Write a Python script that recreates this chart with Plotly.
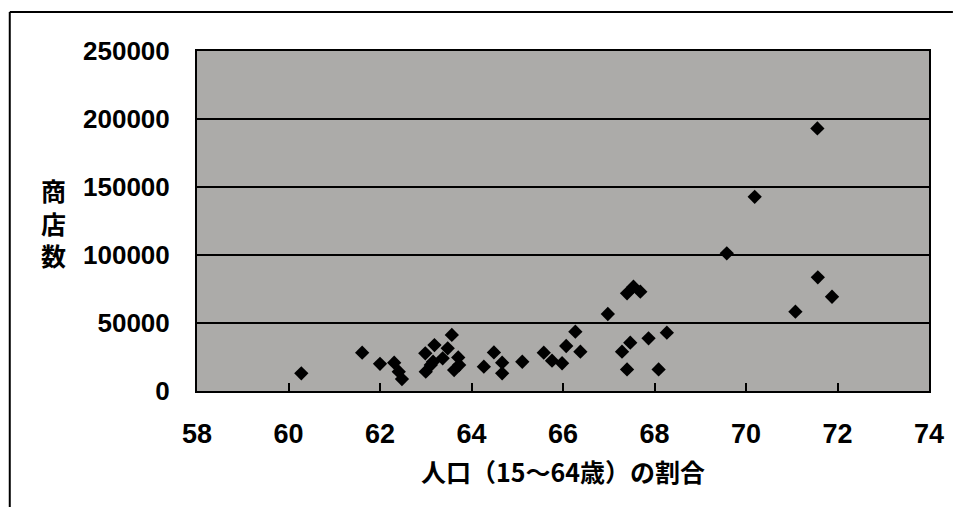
import plotly.graph_objects as go

# Share of population aged 15-64 (%)
working_age_share = [
    60.28, 61.61, 62.00, 62.31, 62.41, 62.48,
    62.99, 63.19, 63.48, 63.57, 63.37, 63.16, 63.71, 63.00, 63.11, 63.62, 63.73,
    64.27, 64.49, 64.67, 64.67, 65.11, 65.58, 65.76, 65.98, 66.07, 66.27, 66.38,
    66.98, 67.29, 67.47, 67.40, 67.87, 68.27, 68.09, 67.40, 67.54, 67.69,
    69.58, 70.19, 71.08, 71.57, 71.88, 71.56,
]
# Number of shops
shop_count = [
    13000, 28200, 20000, 20800, 14200, 8800,
    27700, 33800, 31400, 41200, 24000, 21500, 24700, 14200, 19100, 15400, 19100,
    17900, 28400, 20800, 13000, 21500, 28200, 22300, 20400, 33100, 43600, 28900,
    56600, 28900, 35500, 15900, 38700, 42900, 15900, 71800, 76700, 73000,
    101200, 142800, 58300, 83600, 69300, 193100,
]

x_ticks = [58, 60, 62, 64, 66, 68, 70, 72, 74]
y_ticks = [0, 50000, 100000, 150000, 200000, 250000]

x_title = "人口（15～64歳）の割合"
y_title = "商<br>店<br>数"

W, H = 956, 507
L, R, T, B = 197, 24, 51, 116
pw, ph = W - L - R, H - T - B

fig = go.Figure()
fig.add_trace(go.Scatter(
    x=working_age_share, y=shop_count, mode="markers",
    marker=dict(symbol="diamond", size=11, color="black", line=dict(width=0)),
    showlegend=False,
))

fig.update_layout(
    width=W, height=H,
    margin=dict(l=L, r=R, t=T, b=B),
    paper_bgcolor="white",
    plot_bgcolor="#acaba9",
    font=dict(family="Liberation Sans, Arial, sans-serif", color="black"),
    xaxis=dict(
        range=[58, 74], tickvals=x_ticks, ticktext=[str(v) for v in x_ticks],
        showgrid=False, zeroline=False,
        showline=True, linecolor="black", linewidth=2, mirror=True,
        ticks="inside", ticklen=8, tickcolor="black", tickwidth=1.5,
        tickfont=dict(family="Liberation Sans Narrow, Arial Narrow, Liberation Sans, sans-serif", size=27, color="black", weight="bold"),
        ticklabelstandoff=18,
    ),
    yaxis=dict(
        range=[0, 250000], tickvals=y_ticks, ticktext=[str(v) for v in y_ticks],
        showgrid=True, gridcolor="black", gridwidth=1.5,
        zeroline=False,
        showline=True, linecolor="black", linewidth=2, mirror=True,
        ticks="", tickfont=dict(size=26, color="black", weight="bold"),
        ticklabelstandoff=20,
    ),
    annotations=[
        dict(text=x_title, xref="paper", yref="paper", x=0.5, y=-(471 - 391) / ph,
             xanchor="center", yanchor="middle", showarrow=False,
             font=dict(family="Noto Sans CJK JP", size=25, color="black", weight="bold")),
        dict(text=y_title, xref="paper", yref="paper", x=(53 - L) / pw, y=(391 - 222) / ph,
             xanchor="center", yanchor="middle", showarrow=False,
             font=dict(family="Noto Sans CJK JP", size=25, color="black", weight="bold")),
    ],
    shapes=[
        dict(type="line", xref="paper", yref="paper",
             x0=(9 - L) / pw, x1=(9 - L) / pw, y0=(391 - 12) / ph, y1=(391 - 507) / ph,
             line=dict(color="black", width=2)),
        dict(type="line", xref="paper", yref="paper",
             x0=(9 - L) / pw, x1=(956 - L) / pw, y0=(391 - 12) / ph, y1=(391 - 12) / ph,
             line=dict(color="black", width=2)),
    ],
)

fig.write_html("out.html")
